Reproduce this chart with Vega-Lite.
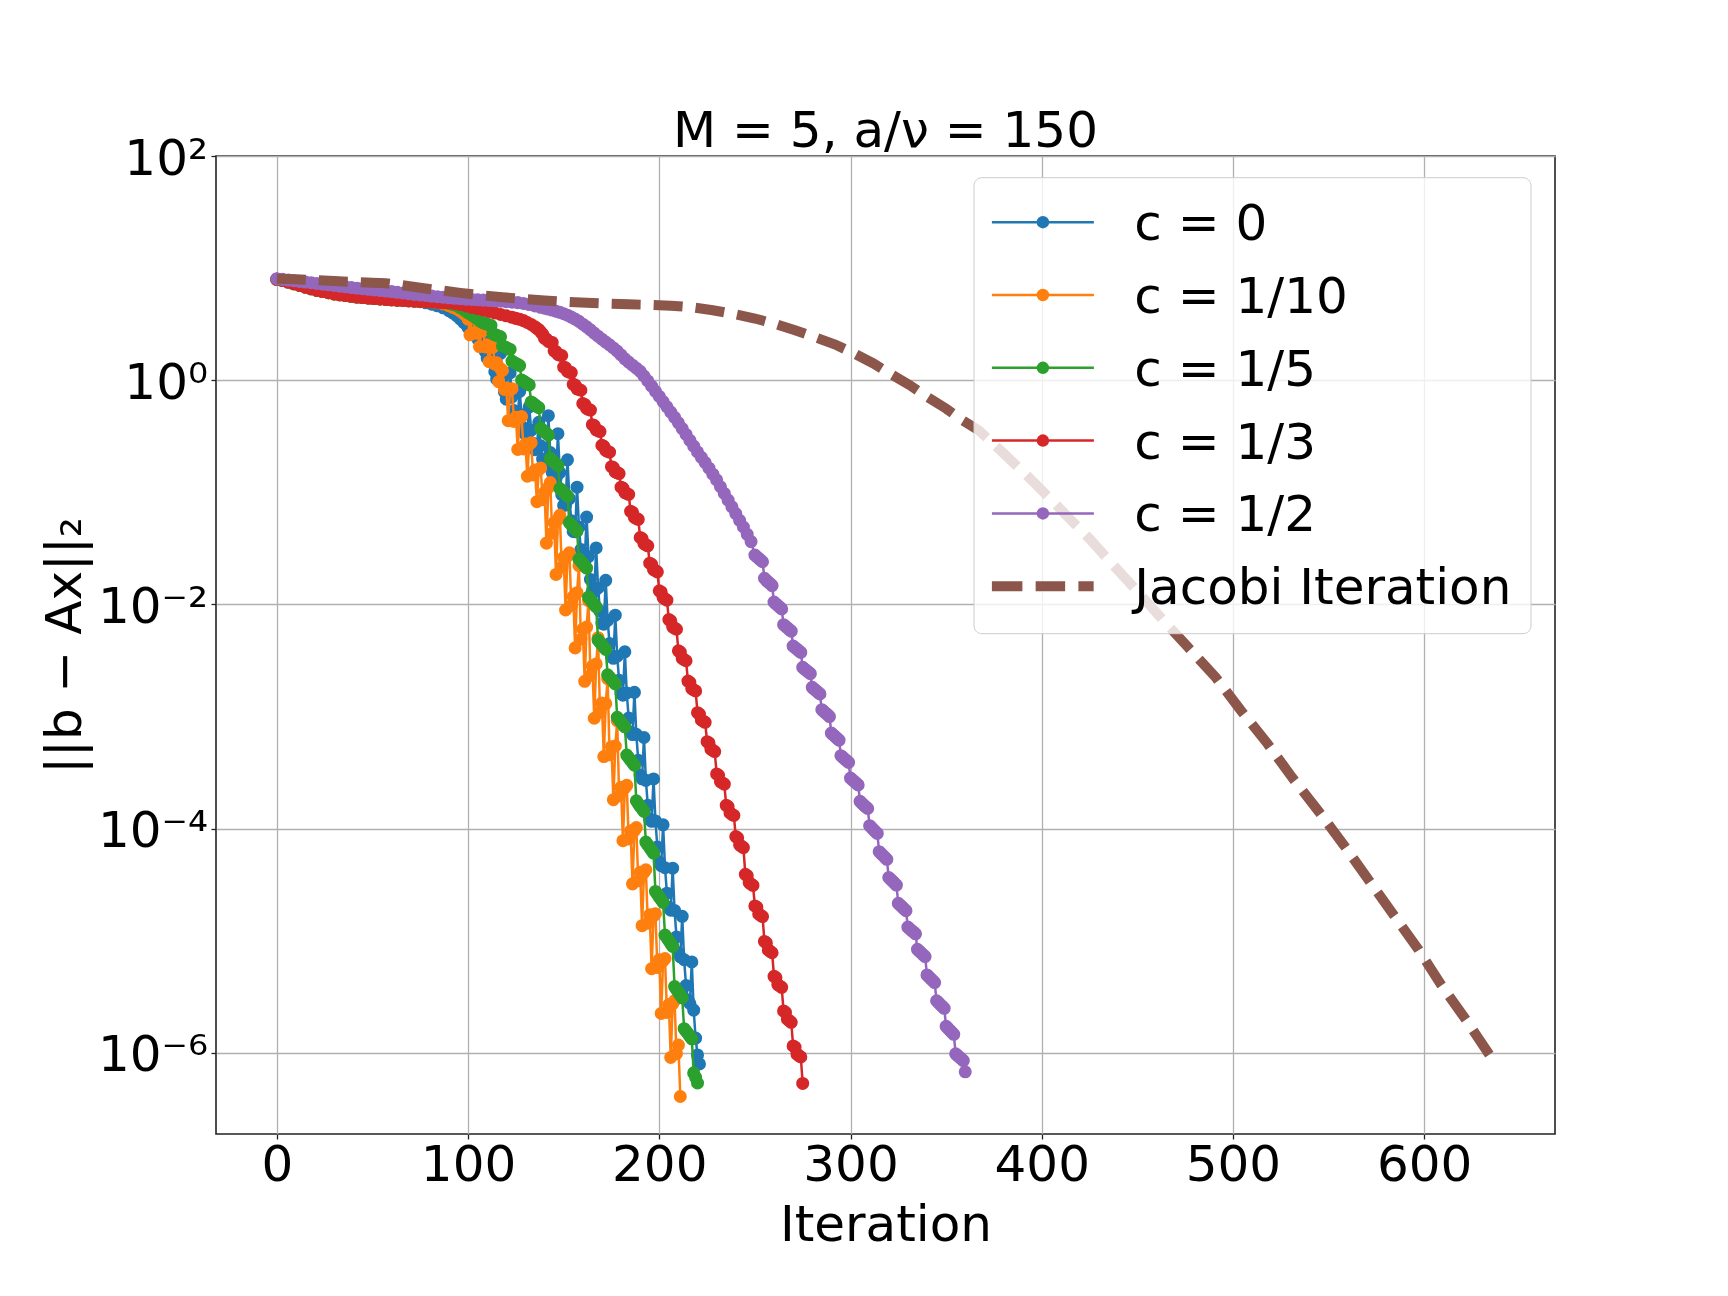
{
  "$schema": "https://vega.github.io/schema/vega-lite/v6.json",
  "width": 1339,
  "height": 978,
  "autosize": {"type": "none"},
  "padding": {"left": 216, "top": 156, "right": 173, "bottom": 162},
  "background": "white",
  "title": {"text": "M = 5, a/ν = 150", "font": "DejaVu Sans", "fontSize": 50, "fontWeight": "normal", "color": "black", "anchor": "middle", "frame": "group", "baseline": "alphabetic", "offset": 9, "dy": 72},
  "datasets": {
    "c0": [{"i":0,"r":7.94},{"i":3,"r":7.76},{"i":6,"r":7.5},{"i":9,"r":7.24},{"i":12,"r":7.0},{"i":15,"r":6.76},{"i":18,"r":6.53},{"i":21,"r":6.31},{"i":24,"r":6.17},{"i":27,"r":6.03},{"i":30,"r":5.89},{"i":33,"r":5.78},{"i":36,"r":5.69},{"i":39,"r":5.6},{"i":42,"r":5.52},{"i":45,"r":5.46},{"i":48,"r":5.4},{"i":51,"r":5.35},{"i":54,"r":5.3},{"i":57,"r":5.25},{"i":60,"r":5.21},{"i":63,"r":5.18},{"i":66,"r":5.14},{"i":69,"r":5.11},{"i":72,"r":5.07},{"i":75,"r":5.01},{"i":78,"r":4.9},{"i":81,"r":4.76},{"i":84,"r":4.61},{"i":87,"r":4.42},{"i":90,"r":4.17},{"i":92,"r":3.98},{"i":94,"r":3.76},{"i":96,"r":3.51},{"i":98,"r":3.24},
      {"i":100,"r":2.95},{"i":101,"r":3.16},{"i":102,"r":3.8},{"i":103,"r":2.95},{"i":104,"r":2.54},{"i":105,"r":2.34},{"i":106,"r":2.48},{"i":107,"r":2.92},{"i":108,"r":2.19},{"i":109,"r":1.8},{"i":110,"r":1.58},{"i":111,"r":1.62},{"i":112,"r":2.63},{"i":113,"r":1.58},{"i":114,"r":1.19},{"i":115,"r":1.02},{"i":116,"r":1.05},{"i":117,"r":1.73},{"i":118,"r":1.05},{"i":119,"r":0.787},{"i":120,"r":0.676},{"i":121,"r":0.703},{"i":122,"r":1.16},{"i":123,"r":0.71},{"i":124,"r":0.536},{"i":125,"r":0.463},{"i":126,"r":0.482},{"i":127,"r":0.794},{"i":128,"r":0.492},{"i":129,"r":0.376},{"i":130,"r":0.329},{"i":131,"r":0.347},{"i":132,"r":0.578},{"i":133,"r":0.359},{"i":134,"r":0.274},{"i":135,"r":0.24},{"i":136,"r":0.252},{"i":137,"r":0.421},{"i":138,"r":0.26},{"i":139,"r":0.198},{"i":140,"r":0.173},{"i":141,"r":0.182},{"i":142,"r":0.482},{"i":143,"r":0.226},{"i":144,"r":0.15},{"i":145,"r":0.125},{"i":146,"r":0.132},{"i":147,"r":0.333},{"i":148,"r":0.15},{"i":149,"r":0.0955},{"i":150,"r":0.0764},{"i":151,"r":0.0771},{"i":152,"r":0.195},{"i":153,"r":0.0877},{"i":154,"r":0.0558},{"i":155,"r":0.0447},{"i":156,"r":0.0444},{"i":157,"r":0.111},{"i":158,"r":0.0491},{"i":159,"r":0.0308},{"i":160,"r":0.0243},{"i":161,"r":0.0241},{"i":162,"r":0.0601},{"i":163,"r":0.0267},{"i":164,"r":0.0167},{"i":165,"r":0.0132},{"i":166,"r":0.0129},{"i":167,"r":0.0319},{"i":168,"r":0.014},{"i":169,"r":0.00869},{"i":170,"r":0.00678},{"i":171,"r":0.00665},{"i":172,"r":0.0164},{"i":173,"r":0.00721},{"i":174,"r":0.00447},{"i":175,"r":0.00342},{"i":176,"r":0.0033},{"i":177,"r":0.008},{"i":178,"r":0.00345},{"i":179,"r":0.0021},{"i":180,"r":0.00161},{"i":181,"r":0.00155},{"i":182,"r":0.00377},{"i":183,"r":0.00162},{"i":184,"r":9.68e-4},{"i":185,"r":7.28e-4},{"i":186,"r":6.89e-4},{"i":187,"r":0.00164},{"i":188,"r":6.92e-4},{"i":189,"r":4.06e-4},{"i":190,"r":2.99e-4},{"i":191,"r":2.78e-4},{"i":192,"r":6.49e-4},{"i":193,"r":2.69e-4},{"i":194,"r":1.61e-4},{"i":195,"r":1.22e-4},{"i":196,"r":1.16e-4},{"i":197,"r":2.77e-4},{"i":198,"r":1.17e-4},{"i":199,"r":6.85e-5},{"i":200,"r":5.04e-5},{"i":201,"r":4.66e-5},{"i":202,"r":1.08e-4},{"i":203,"r":4.47e-5},{"i":204,"r":2.65e-5},{"i":205,"r":1.99e-5},{"i":206,"r":1.87e-5},{"i":207,"r":4.43e-5},{"i":208,"r":1.86e-5},{"i":209,"r":1.08e-5},{"i":210,"r":7.83e-6},{"i":211,"r":7.18e-6},{"i":212,"r":1.65e-5},{"i":213,"r":6.76e-6},{"i":214,"r":3.98e-6},{"i":215,"r":2.95e-6},{"i":216,"r":2.75e-6},{"i":217,"r":6.46e-6},{"i":218,"r":2.4e-6},{"i":219,"r":1.35e-6},{"i":220,"r":9.55e-7},{"i":221,"r":7.94e-7}],
    "c10": [{"i":0,"r":7.94},{"i":3,"r":7.76},{"i":6,"r":7.5},{"i":9,"r":7.24},{"i":12,"r":7.0},{"i":15,"r":6.76},{"i":18,"r":6.53},{"i":21,"r":6.31},{"i":24,"r":6.17},{"i":27,"r":6.03},{"i":30,"r":5.89},{"i":33,"r":5.78},{"i":36,"r":5.69},{"i":39,"r":5.6},{"i":42,"r":5.52},{"i":45,"r":5.46},{"i":48,"r":5.4},{"i":51,"r":5.35},{"i":54,"r":5.3},{"i":57,"r":5.25},{"i":60,"r":5.21},{"i":63,"r":5.18},{"i":66,"r":5.14},{"i":69,"r":5.11},{"i":72,"r":5.07},{"i":75,"r":5.04},{"i":78,"r":5.01},{"i":81,"r":4.98},{"i":84,"r":4.9},{"i":87,"r":4.79},{"i":90,"r":4.62},{"i":92,"r":4.47},{"i":94,"r":4.32},{"i":96,"r":4.12},{"i":98,"r":3.89},
      {"i":100,"r":3.51},{"i":101,"r":2.54},{"i":102,"r":3.55},{"i":103,"r":3.63},{"i":104,"r":2.63},{"i":105,"r":2.79},{"i":106,"r":1.99},{"i":107,"r":2.74},{"i":108,"r":2.77},{"i":109,"r":1.98},{"i":110,"r":2.07},{"i":111,"r":1.46},{"i":112,"r":1.98},{"i":113,"r":1.97},{"i":114,"r":1.39},{"i":115,"r":1.43},{"i":116,"r":0.97},{"i":117,"r":1.27},{"i":118,"r":1.22},{"i":119,"r":0.828},{"i":120,"r":0.851},{"i":121,"r":0.435},{"i":122,"r":0.824},{"i":123,"r":0.839},{"i":124,"r":0.429},{"i":125,"r":0.468},{"i":126,"r":0.241},{"i":127,"r":0.461},{"i":128,"r":0.474},{"i":129,"r":0.244},{"i":130,"r":0.269},{"i":131,"r":0.139},{"i":132,"r":0.268},{"i":133,"r":0.277},{"i":134,"r":0.143},{"i":135,"r":0.158},{"i":136,"r":0.0824},{"i":137,"r":0.159},{"i":138,"r":0.165},{"i":139,"r":0.0859},{"i":140,"r":0.1},{"i":141,"r":0.0352},{"i":142,"r":0.11},{"i":143,"r":0.122},{"i":144,"r":0.0431},{"i":145,"r":0.0537},{"i":146,"r":0.0185},{"i":147,"r":0.057},{"i":148,"r":0.0622},{"i":149,"r":0.0215},{"i":150,"r":0.0263},{"i":151,"r":0.00891},{"i":152,"r":0.0269},{"i":153,"r":0.0288},{"i":154,"r":0.00977},{"i":155,"r":0.0117},{"i":156,"r":0.00409},{"i":157,"r":0.0127},{"i":158,"r":0.0222},{"i":159,"r":0.00488},{"i":160,"r":0.00603},{"i":161,"r":0.00206},{"i":162,"r":0.00628},{"i":163,"r":0.0108},{"i":164,"r":0.00232},{"i":165,"r":0.00282},{"i":166,"r":9.64e-4},{"i":167,"r":0.00294},{"i":168,"r":0.00504},{"i":169,"r":0.00109},{"i":170,"r":0.00132},{"i":171,"r":4.39e-4},{"i":172,"r":0.0013},{"i":173,"r":0.00217},{"i":174,"r":4.55e-4},{"i":175,"r":5.37e-4},{"i":176,"r":1.81e-4},{"i":177,"r":5.45e-4},{"i":178,"r":9.2e-4},{"i":179,"r":1.96e-4},{"i":180,"r":2.34e-4},{"i":181,"r":7.8e-5},{"i":182,"r":2.31e-4},{"i":183,"r":2.43e-4},{"i":184,"r":8.09e-5},{"i":185,"r":9.55e-5},{"i":186,"r":3.21e-5},{"i":187,"r":9.59e-5},{"i":188,"r":1.02e-4},{"i":189,"r":3.42e-5},{"i":190,"r":4.07e-5},{"i":191,"r":1.36e-5},{"i":192,"r":4.06e-5},{"i":193,"r":4.29e-5},{"i":194,"r":1.43e-5},{"i":195,"r":1.7e-5},{"i":196,"r":5.62e-6},{"i":197,"r":1.66e-5},{"i":198,"r":1.74e-5},{"i":199,"r":5.75e-6},{"i":200,"r":6.76e-6},{"i":201,"r":2.24e-6},{"i":202,"r":6.61e-6},{"i":203,"r":6.92e-6},{"i":204,"r":2.29e-6},{"i":205,"r":2.69e-6},{"i":206,"r":9.08e-7},{"i":207,"r":2.73e-6},{"i":208,"r":2.91e-6},{"i":209,"r":9.82e-7},{"i":210,"r":1.17e-6},{"i":211,"r":4.07e-7}],
    "c5": [{"i":0,"r":7.94},{"i":3,"r":7.76},{"i":6,"r":7.5},{"i":9,"r":7.24},{"i":12,"r":7.0},{"i":15,"r":6.76},{"i":18,"r":6.53},{"i":21,"r":6.31},{"i":24,"r":6.17},{"i":27,"r":6.03},{"i":30,"r":5.89},{"i":33,"r":5.78},{"i":36,"r":5.69},{"i":39,"r":5.6},{"i":42,"r":5.52},{"i":45,"r":5.46},{"i":48,"r":5.4},{"i":51,"r":5.35},{"i":54,"r":5.3},{"i":57,"r":5.25},{"i":60,"r":5.21},{"i":63,"r":5.18},{"i":66,"r":5.14},{"i":69,"r":5.11},{"i":72,"r":5.07},{"i":75,"r":5.04},{"i":78,"r":5.01},{"i":81,"r":4.98},{"i":84,"r":4.94},{"i":87,"r":4.9},{"i":90,"r":4.84},{"i":92,"r":4.73},{"i":94,"r":4.62},{"i":96,"r":4.42},{"i":98,"r":4.22},{"i":100,"r":3.98},{"i":102,"r":3.8},{"i":104,"r":3.59},{"i":106,"r":3.39},{"i":107,"r":3.31},
      {"i":108,"r":3.25},{"i":109,"r":3.21},{"i":110,"r":3.16},{"i":111,"r":3.12},{"i":112,"r":3.08},{"i":113,"r":2.59},{"i":114,"r":2.55},{"i":115,"r":2.51},{"i":116,"r":2.47},{"i":117,"r":2.44},{"i":118,"r":2.02},{"i":119,"r":1.99},{"i":120,"r":1.95},{"i":121,"r":1.91},{"i":122,"r":1.88},{"i":123,"r":1.48},{"i":124,"r":1.44},{"i":125,"r":1.41},{"i":126,"r":1.38},{"i":127,"r":1.35},{"i":128,"r":1.005},{"i":129,"r":0.98},{"i":130,"r":0.955},{"i":131,"r":0.931},{"i":132,"r":0.908},{"i":133,"r":0.64},{"i":134,"r":0.621},{"i":135,"r":0.603},{"i":136,"r":0.585},{"i":137,"r":0.568},{"i":138,"r":0.372},{"i":139,"r":0.359},{"i":140,"r":0.347},{"i":141,"r":0.335},{"i":142,"r":0.323},{"i":143,"r":0.2},{"i":144,"r":0.193},{"i":145,"r":0.186},{"i":146,"r":0.179},{"i":147,"r":0.173},{"i":148,"r":0.108},{"i":149,"r":0.104},{"i":150,"r":0.1},{"i":151,"r":0.0962},{"i":152,"r":0.0923},{"i":153,"r":0.0535},{"i":154,"r":0.0512},{"i":155,"r":0.049},{"i":156,"r":0.0469},{"i":157,"r":0.0449},{"i":158,"r":0.0254},{"i":159,"r":0.0243},{"i":160,"r":0.0232},{"i":161,"r":0.0221},{"i":162,"r":0.0211},{"i":163,"r":0.0116},{"i":164,"r":0.011},{"i":165,"r":0.0105},{"i":166,"r":0.00995},{"i":167,"r":0.00948},{"i":168,"r":0.00481},{"i":169,"r":0.00458},{"i":170,"r":0.00437},{"i":171,"r":0.00416},{"i":172,"r":0.00396},{"i":173,"r":0.00235},{"i":174,"r":0.00224},{"i":175,"r":0.00214},{"i":176,"r":0.00204},{"i":177,"r":0.00195},{"i":178,"r":9.84e-4},{"i":179,"r":9.38e-4},{"i":180,"r":8.91e-4},{"i":181,"r":8.47e-4},{"i":182,"r":8.07e-4},{"i":183,"r":4.52e-4},{"i":184,"r":4.29e-4},{"i":185,"r":4.07e-4},{"i":186,"r":3.87e-4},{"i":187,"r":3.67e-4},{"i":188,"r":1.77e-4},{"i":189,"r":1.67e-4},{"i":190,"r":1.58e-4},{"i":191,"r":1.5e-4},{"i":192,"r":1.42e-4},{"i":193,"r":7.57e-5},{"i":194,"r":7.14e-5},{"i":195,"r":6.76e-5},{"i":196,"r":6.4e-5},{"i":197,"r":6.04e-5},{"i":198,"r":2.75e-5},{"i":199,"r":2.6e-5},{"i":200,"r":2.45e-5},{"i":201,"r":2.32e-5},{"i":202,"r":2.19e-5},{"i":203,"r":1.12e-5},{"i":204,"r":1.06e-5},{"i":205,"r":1.0e-5},{"i":206,"r":9.42e-6},{"i":207,"r":8.89e-6},{"i":208,"r":3.89e-6},{"i":209,"r":3.67e-6},{"i":210,"r":3.47e-6},{"i":211,"r":3.27e-6},{"i":212,"r":3.09e-6},{"i":213,"r":1.64e-6},{"i":214,"r":1.56e-6},{"i":215,"r":1.48e-6},{"i":216,"r":1.4e-6},{"i":217,"r":1.33e-6},{"i":218,"r":6.61e-7},{"i":219,"r":6.03e-7},{"i":220,"r":5.37e-7}],
    "c3": [{"i":0,"r":7.94},{"i":3,"r":7.76},{"i":6,"r":7.5},{"i":9,"r":7.24},{"i":12,"r":7.0},{"i":15,"r":6.76},{"i":18,"r":6.53},{"i":21,"r":6.31},{"i":24,"r":6.17},{"i":27,"r":6.03},{"i":30,"r":5.89},{"i":33,"r":5.78},{"i":36,"r":5.69},{"i":39,"r":5.6},{"i":42,"r":5.52},{"i":45,"r":5.46},{"i":48,"r":5.4},{"i":51,"r":5.35},{"i":54,"r":5.3},{"i":57,"r":5.25},{"i":60,"r":5.21},{"i":63,"r":5.18},{"i":66,"r":5.14},{"i":69,"r":5.11},{"i":72,"r":5.07},{"i":75,"r":5.04},{"i":78,"r":5.01},{"i":81,"r":4.98},{"i":84,"r":4.94},{"i":87,"r":4.9},{"i":90,"r":4.9},{"i":93,"r":4.84},{"i":96,"r":4.73},{"i":99,"r":4.59},{"i":102,"r":4.45},{"i":105,"r":4.34},{"i":108,"r":4.23},{"i":111,"r":4.1},{"i":114,"r":3.98},{"i":117,"r":3.86},{"i":120,"r":3.75},{"i":123,"r":3.64},{"i":125,"r":3.56},{"i":127,"r":3.49},{"i":129,"r":3.4},{"i":131,"r":3.27},{"i":133,"r":3.14},{"i":135,"r":2.99},{"i":136,"r":2.9},{"i":137,"r":2.82},{"i":138,"r":2.7},{"i":139,"r":2.58},
      {"i":140,"r":2.36},{"i":141,"r":2.33},{"i":142,"r":2.22},{"i":143,"r":2.19},{"i":144,"r":2.17},{"i":145,"r":1.83},{"i":146,"r":1.8},{"i":147,"r":1.7},{"i":148,"r":1.67},{"i":149,"r":1.66},{"i":150,"r":1.31},{"i":151,"r":1.29},{"i":152,"r":1.2},{"i":153,"r":1.18},{"i":154,"r":1.17},{"i":155,"r":0.918},{"i":156,"r":0.904},{"i":157,"r":0.838},{"i":158,"r":0.826},{"i":159,"r":0.813},{"i":160,"r":0.619},{"i":161,"r":0.608},{"i":162,"r":0.56},{"i":163,"r":0.55},{"i":164,"r":0.541},{"i":165,"r":0.401},{"i":166,"r":0.394},{"i":167,"r":0.361},{"i":168,"r":0.355},{"i":169,"r":0.348},{"i":170,"r":0.262},{"i":171,"r":0.257},{"i":172,"r":0.236},{"i":173,"r":0.232},{"i":174,"r":0.228},{"i":175,"r":0.169},{"i":176,"r":0.166},{"i":177,"r":0.152},{"i":178,"r":0.15},{"i":179,"r":0.147},{"i":180,"r":0.111},{"i":181,"r":0.109},{"i":182,"r":0.0993},{"i":183,"r":0.0975},{"i":184,"r":0.0957},{"i":185,"r":0.0676},{"i":186,"r":0.0662},{"i":187,"r":0.0597},{"i":188,"r":0.0585},{"i":189,"r":0.0573},{"i":190,"r":0.0395},{"i":191,"r":0.0386},{"i":192,"r":0.0348},{"i":193,"r":0.034},{"i":194,"r":0.0333},{"i":195,"r":0.0233},{"i":196,"r":0.0228},{"i":197,"r":0.0204},{"i":198,"r":0.02},{"i":199,"r":0.0195},{"i":200,"r":0.0132},{"i":201,"r":0.0129},{"i":202,"r":0.0115},{"i":203,"r":0.0112},{"i":204,"r":0.0109},{"i":205,"r":0.00731},{"i":206,"r":0.00713},{"i":207,"r":0.0063},{"i":208,"r":0.00614},{"i":209,"r":0.006},{"i":210,"r":0.00385},{"i":211,"r":0.00375},{"i":212,"r":0.0033},{"i":213,"r":0.00322},{"i":214,"r":0.00314},{"i":215,"r":0.00207},{"i":216,"r":0.00201},{"i":217,"r":0.00177},{"i":218,"r":0.00173},{"i":219,"r":0.00169},{"i":220,"r":0.00108},{"i":221,"r":0.00105},{"i":222,"r":9.31e-4},{"i":223,"r":9.08e-4},{"i":224,"r":8.87e-4},{"i":225,"r":5.96e-4},{"i":226,"r":5.81e-4},{"i":227,"r":5.12e-4},{"i":228,"r":4.99e-4},{"i":229,"r":4.86e-4},{"i":230,"r":3.07e-4},{"i":231,"r":2.99e-4},{"i":232,"r":2.62e-4},{"i":233,"r":2.55e-4},{"i":234,"r":2.49e-4},{"i":235,"r":1.61e-4},{"i":236,"r":1.57e-4},{"i":237,"r":1.38e-4},{"i":238,"r":1.34e-4},{"i":239,"r":1.31e-4},{"i":240,"r":8.49e-5},{"i":241,"r":8.26e-5},{"i":242,"r":7.16e-5},{"i":243,"r":6.95e-5},{"i":244,"r":6.76e-5},{"i":245,"r":3.91e-5},{"i":246,"r":3.8e-5},{"i":247,"r":3.3e-5},{"i":248,"r":3.2e-5},{"i":249,"r":3.11e-5},{"i":250,"r":2.04e-5},{"i":251,"r":1.99e-5},{"i":252,"r":1.73e-5},{"i":253,"r":1.68e-5},{"i":254,"r":1.64e-5},{"i":255,"r":9.84e-6},{"i":256,"r":9.55e-6},{"i":257,"r":8.26e-6},{"i":258,"r":8.04e-6},{"i":259,"r":7.8e-6},{"i":260,"r":4.81e-6},{"i":261,"r":4.68e-6},{"i":262,"r":4.06e-6},{"i":263,"r":3.94e-6},{"i":264,"r":3.83e-6},{"i":265,"r":2.36e-6},{"i":266,"r":2.29e-6},{"i":267,"r":1.99e-6},{"i":268,"r":1.93e-6},{"i":269,"r":1.87e-6},{"i":270,"r":1.15e-6},{"i":271,"r":1.12e-6},{"i":272,"r":9.72e-7},{"i":273,"r":9.44e-7},{"i":274,"r":9.18e-7},{"i":275,"r":5.32e-7}],
    "c2": [{"i":0,"r":8.04},{"i":3,"r":7.93},{"i":6,"r":7.82},{"i":9,"r":7.71},{"i":12,"r":7.6},{"i":15,"r":7.5},{"i":18,"r":7.4},{"i":21,"r":7.29},{"i":24,"r":7.19},{"i":27,"r":7.1},{"i":30,"r":7.0},{"i":33,"r":6.9},{"i":36,"r":6.81},{"i":39,"r":6.71},{"i":42,"r":6.62},{"i":45,"r":6.55},{"i":48,"r":6.47},{"i":51,"r":6.38},{"i":54,"r":6.31},{"i":57,"r":6.24},{"i":60,"r":6.17},{"i":63,"r":6.08},{"i":66,"r":6.0},{"i":69,"r":5.92},{"i":72,"r":5.83},{"i":75,"r":5.77},{"i":78,"r":5.7},{"i":81,"r":5.62},{"i":84,"r":5.56},{"i":87,"r":5.5},{"i":90,"r":5.43},{"i":93,"r":5.38},{"i":96,"r":5.33},{"i":99,"r":5.28},{"i":102,"r":5.25},{"i":105,"r":5.21},{"i":108,"r":5.18},{"i":111,"r":5.14},{"i":114,"r":5.11},{"i":117,"r":5.06},{"i":120,"r":5.01},{"i":123,"r":4.97},{"i":126,"r":4.92},{"i":129,"r":4.84},{"i":132,"r":4.73},{"i":135,"r":4.6},{"i":138,"r":4.47},
      {"i":140,"r":4.39},{"i":142,"r":4.31},{"i":144,"r":4.22},{"i":146,"r":4.12},{"i":148,"r":4.03},{"i":150,"r":3.92},{"i":152,"r":3.8},{"i":154,"r":3.66},{"i":156,"r":3.51},{"i":158,"r":3.35},{"i":160,"r":3.16},{"i":162,"r":2.99},{"i":164,"r":2.81},{"i":166,"r":2.63},{"i":168,"r":2.47},{"i":170,"r":2.32},{"i":172,"r":2.19},{"i":174,"r":2.07},{"i":176,"r":1.94},{"i":178,"r":1.82},{"i":180,"r":1.68},{"i":182,"r":1.55},{"i":184,"r":1.45},{"i":186,"r":1.36},{"i":188,"r":1.28},{"i":190,"r":1.2},{"i":192,"r":1.09},{"i":194,"r":0.984},{"i":196,"r":0.885},{"i":198,"r":0.796},{"i":200,"r":0.716},{"i":202,"r":0.644},{"i":204,"r":0.579},{"i":206,"r":0.52},{"i":208,"r":0.466},{"i":210,"r":0.417},{"i":212,"r":0.37},{"i":214,"r":0.328},{"i":216,"r":0.291},{"i":218,"r":0.258},{"i":220,"r":0.229},{"i":222,"r":0.205},{"i":224,"r":0.184},{"i":226,"r":0.164},{"i":228,"r":0.145},{"i":230,"r":0.129},{"i":232,"r":0.112},{"i":234,"r":0.0977},{"i":236,"r":0.0851},{"i":238,"r":0.0741},{"i":240,"r":0.0646},{"i":242,"r":0.0562},{"i":244,"r":0.049},{"i":246,"r":0.0422},{"i":248,"r":0.0363},
      {"i":250,"r":0.0275},{"i":251,"r":0.0266},{"i":252,"r":0.0257},{"i":253,"r":0.0248},{"i":254,"r":0.024},{"i":255,"r":0.0171},{"i":256,"r":0.0164},{"i":257,"r":0.0158},{"i":258,"r":0.0153},{"i":259,"r":0.0147},{"i":260,"r":0.0105},{"i":261,"r":0.0101},{"i":262,"r":0.00977},{"i":263,"r":0.00944},{"i":264,"r":0.0091},{"i":265,"r":0.00659},{"i":266,"r":0.00638},{"i":267,"r":0.00617},{"i":268,"r":0.00596},{"i":269,"r":0.00577},{"i":270,"r":0.00425},{"i":271,"r":0.00411},{"i":272,"r":0.00398},{"i":273,"r":0.00385},{"i":274,"r":0.00373},{"i":275,"r":0.00274},{"i":276,"r":0.00265},{"i":277,"r":0.00257},{"i":278,"r":0.00249},{"i":279,"r":0.00241},{"i":280,"r":0.00182},{"i":281,"r":0.00175},{"i":282,"r":0.0017},{"i":283,"r":0.00164},{"i":284,"r":0.00159},{"i":285,"r":0.00115},{"i":286,"r":0.00111},{"i":287,"r":0.00107},{"i":288,"r":0.00104},{"i":289,"r":9.98e-4},{"i":290,"r":7.1e-4},{"i":291,"r":6.84e-4},{"i":292,"r":6.61e-4},{"i":293,"r":6.38e-4},{"i":294,"r":6.15e-4},{"i":295,"r":4.47e-4},{"i":296,"r":4.32e-4},{"i":297,"r":4.17e-4},{"i":298,"r":4.03e-4},{"i":299,"r":3.89e-4},{"i":300,"r":2.82e-4},{"i":301,"r":2.72e-4},{"i":302,"r":2.63e-4},{"i":303,"r":2.54e-4},{"i":304,"r":2.45e-4},{"i":305,"r":1.75e-4},{"i":306,"r":1.68e-4},{"i":307,"r":1.62e-4},{"i":308,"r":1.56e-4},{"i":309,"r":1.51e-4},{"i":310,"r":1.06e-4},{"i":311,"r":1.02e-4},{"i":312,"r":9.77e-5},{"i":313,"r":9.4e-5},{"i":314,"r":9.04e-5},{"i":315,"r":6.22e-5},{"i":316,"r":5.98e-5},{"i":317,"r":5.75e-5},{"i":318,"r":5.53e-5},{"i":319,"r":5.32e-5},{"i":320,"r":3.66e-5},{"i":321,"r":3.52e-5},{"i":322,"r":3.39e-5},{"i":323,"r":3.26e-5},{"i":324,"r":3.13e-5},{"i":325,"r":2.15e-5},{"i":326,"r":2.07e-5},{"i":327,"r":2.0e-5},{"i":328,"r":1.92e-5},{"i":329,"r":1.85e-5},{"i":330,"r":1.32e-5},{"i":331,"r":1.27e-5},{"i":332,"r":1.23e-5},{"i":333,"r":1.19e-5},{"i":334,"r":1.15e-5},{"i":335,"r":8.36e-6},{"i":336,"r":8.05e-6},{"i":337,"r":7.76e-6},{"i":338,"r":7.48e-6},{"i":339,"r":7.21e-6},{"i":340,"r":4.94e-6},{"i":341,"r":4.75e-6},{"i":342,"r":4.57e-6},{"i":343,"r":4.4e-6},{"i":344,"r":4.23e-6},{"i":345,"r":2.91e-6},{"i":346,"r":2.8e-6},{"i":347,"r":2.69e-6},{"i":348,"r":2.59e-6},{"i":349,"r":2.49e-6},{"i":350,"r":1.72e-6},{"i":351,"r":1.65e-6},{"i":352,"r":1.58e-6},{"i":353,"r":1.52e-6},{"i":354,"r":1.46e-6},{"i":355,"r":9.77e-7},{"i":356,"r":9.44e-7},{"i":357,"r":9.12e-7},{"i":358,"r":8.81e-7},{"i":359,"r":8.51e-7},{"i":360,"r":6.76e-7}],
    "jac": [{"i":0,"r":8.04},{"i":10,"r":7.94},{"i":20,"r":7.82},{"i":30,"r":7.67},{"i":40,"r":7.53},{"i":50,"r":7.41},{"i":57,"r":7.33},{"i":65,"r":7.05},{"i":74,"r":6.71},{"i":85,"r":6.35},{"i":96,"r":6.01},{"i":107,"r":5.73},{"i":118,"r":5.5},{"i":129,"r":5.3},{"i":140,"r":5.14},{"i":151,"r":5.01},{"i":162,"r":4.9},{"i":173,"r":4.81},{"i":184,"r":4.75},{"i":195,"r":4.7},{"i":206,"r":4.62},{"i":217,"r":4.47},{"i":228,"r":4.21},{"i":239,"r":3.89},{"i":250,"r":3.55},{"i":261,"r":3.16},{"i":271,"r":2.79},{"i":281,"r":2.43},{"i":292,"r":2.08},{"i":302,"r":1.73},{"i":312,"r":1.41},{"i":321,"r":1.135},{"i":331,"r":0.902},{"i":340,"r":0.711},{"i":350,"r":0.558},{"i":358,"r":0.445},{"i":367,"r":0.358},{"i":380,"r":0.223},{"i":393,"r":0.137},{"i":404,"r":0.0891},{"i":414,"r":0.0596},{"i":425,"r":0.0385},{"i":435,"r":0.0248},{"i":445,"r":0.0162},{"i":455,"r":0.0105},{"i":465,"r":0.00676},{"i":476,"r":0.00424},{"i":491,"r":0.00223},{"i":504,"r":0.00114},{"i":518,"r":5.74e-4},{"i":531,"r":2.85e-4},{"i":545,"r":1.41e-4},{"i":558,"r":7.11e-5},{"i":571,"r":3.47e-5},{"i":584,"r":1.7e-5},{"i":597,"r":8.34e-6},{"i":609,"r":4.01e-6},{"i":622,"r":1.95e-6},{"i":636,"r":8.59e-7}]
  },
  "encoding": {
    "x": {
      "field": "i",
      "type": "quantitative",
      "scale": {"domain": [-31.8, 668.4], "nice": false, "zero": false},
      "axis": {"title": "Iteration", "values": [0, 100, 200, 300, 400, 500, 600], "format": "d", "labelFlush": false, "labelPadding": 1.5, "titleBaseline": "alphabetic", "titleY": 106}
    },
    "y": {
      "field": "r",
      "type": "quantitative",
      "scale": {"type": "log", "domain": [1.884e-7, 100], "nice": false},
      "axis": {
        "title": "||b − Ax||₂",
        "values": [1e-6, 1e-4, 0.01, 1, 100],
        "labelExpr": "datum.value >= 10 ? '10²' : datum.value >= 0.5 ? '10⁰' : datum.value >= 0.005 ? '10⁻²' : datum.value >= 0.00005 ? '10⁻⁴' : '10⁻⁶'",
        "labelBaseline": "alphabetic",
        "labelOffset": 18,
        "labelPadding": 3.5,
        "titleBaseline": "alphabetic",
        "titleAngle": 270,
        "titleX": -136,
        "titleY": 489
      }
    }
  },
  "layer": [
    {
      "data": {"name": "c0"},
      "mark": {"type": "line", "strokeWidth": 2.5, "point": {"filled": true, "size": 170, "opacity": 1}},
      "encoding": {
        "color": {
          "datum": "c = 0",
          "type": "nominal",
          "scale": {
            "domain": ["c = 0", "c = 1/10", "c = 1/5", "c = 1/3", "c = 1/2", "Jacobi Iteration"],
            "range": ["#1f77b4", "#ff7f0e", "#2ca02c", "#d62728", "#9467bd", "#8c564b"]
          },
          "legend": {
            "orient": "none",
            "legendX": 757.5,
            "legendY": 21.2,
            "title": null,
            "direction": "vertical",
            "labelFont": "DejaVu Sans",
            "labelFontSize": 50,
            "labelColor": "black",
            "labelLimit": 0,
            "labelOffset": 64.9,
            "symbolOffset": 24.4,
            "symbolSize": 2500,
            "symbolStrokeWidth": 2.5,
            "padding": 18.5,
            "rowPadding": 17.8,
            "fillColor": "rgba(255,255,255,0.8)",
            "strokeColor": "#cccccc",
            "cornerRadius": 8,
            "encode": {
              "symbols": {
                "update": {
                  "shape": {"signal": "datum.value === 'Jacobi Iteration' ? 'M-1.99,-0.15H-0.87V0.15H-1.99ZM-0.24,-0.15H0.84V0.15H-0.24ZM1.47,-0.15H1.98V0.15H1.47Z' : 'M-2.04,0L2.04,0M0.2,0A0.2,0.2,0,1,1,-0.2,0A0.2,0.2,0,1,1,0.2,0Z'"},
                  "fill": {"scale": "color", "field": "value"},
                  "stroke": {"scale": "color", "field": "value"},
                  "strokeWidth": {"value": 2.5},
                  "opacity": {"value": 1},
                  "fillOpacity": {"value": 1}
                }
              },
              "labels": {"update": {"dy": {"value": 3}}}
            }
          }
        }
      }
    },
    {
      "data": {"name": "c10"},
      "mark": {"type": "line", "strokeWidth": 2.5, "point": {"filled": true, "size": 170, "opacity": 1}},
      "encoding": {"color": {"datum": "c = 1/10", "type": "nominal"}}
    },
    {
      "data": {"name": "c5"},
      "mark": {"type": "line", "strokeWidth": 2.5, "point": {"filled": true, "size": 170, "opacity": 1}},
      "encoding": {"color": {"datum": "c = 1/5", "type": "nominal"}}
    },
    {
      "data": {"name": "c3"},
      "mark": {"type": "line", "strokeWidth": 2.5, "point": {"filled": true, "size": 170, "opacity": 1}},
      "encoding": {"color": {"datum": "c = 1/3", "type": "nominal"}}
    },
    {
      "data": {"name": "c2"},
      "mark": {"type": "line", "strokeWidth": 2.5, "point": {"filled": true, "size": 170, "opacity": 1}},
      "encoding": {"color": {"datum": "c = 1/2", "type": "nominal"}}
    },
    {
      "data": {"name": "jac"},
      "mark": {"type": "line", "strokeWidth": 10, "strokeDash": [29, 13], "strokeCap": "butt"},
      "encoding": {"color": {"datum": "Jacobi Iteration", "type": "nominal"}}
    }
  ],
  "config": {
    "font": "DejaVu Sans",
    "view": {"stroke": "#222222", "strokeWidth": 1.6},
    "axis": {
      "domain": false,
      "grid": true,
      "gridColor": "#b0b0b0",
      "gridWidth": 1.3,
      "ticks": true,
      "tickColor": "#222222",
      "tickWidth": 1.3,
      "tickSize": 5,
      "labelFont": "DejaVu Sans",
      "labelFontSize": 50,
      "labelColor": "black",
      "titleFont": "DejaVu Sans",
      "titleFontSize": 50,
      "titleFontWeight": "normal",
      "titleColor": "black",
      "labelOverlap": false
    }
  }
}
